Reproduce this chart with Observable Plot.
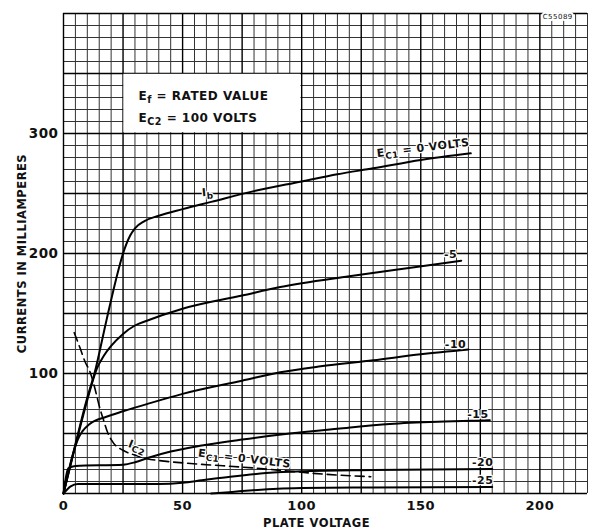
<!DOCTYPE html>
<html>
<head>
<meta charset="utf-8">
<script src="https://cdn.jsdelivr.net/npm/d3@7"></script>
<script src="https://cdn.jsdelivr.net/npm/@observablehq/plot@0.6"></script>
<style>
  html, body { margin: 0; padding: 0; background: #fff; }
  #chart svg { display: block; }
</style>
</head>
<body>
<div id="chart"></div>
<script>
// Plate current Ib (mA) vs plate voltage (V) for each grid-1 voltage
const ecc0  = [[0,0],[5,41],[10,80],[13,100],[18,144],[22,178],[25,200],[28,215],[30,221],[34,227],[40,231.5],[50,237],[62,243],[80,252],[100,260],[115,266],[130,271],[150,278],[171,283.5]];
const ecc5  = [[0,0],[5,40],[10,78],[12,92],[14,104],[17,115],[20,123],[25,133],[30,140],[35,144],[50,154],[75,165],[91,172],[120,181],[145,188],[167,194]];
const ecc10 = [[0,0],[4,33],[6,45],[8,52],[11,58],[18,64],[25,68.5],[35,74.5],[50,83],[75,94],[91,101],[108,106],[130,111],[150,116],[170,120]];
const ecc15 = [[0,0],[2,21],[5,23],[25,24],[30,26],[36,30],[45,35],[58,40],[75,45],[95,50],[115,54],[137,58],[160,60],[179,61]];
const ecc20 = [[0,0],[3,6],[6,8],[40,8],[50,9],[58,11],[70,14],[85,17],[100,18.5],[130,19.5],[180,20.5]];
const ecc25 = [[62,0],[68,0.8],[75,2],[90,4],[100,4.5],[130,5],[180,5.5]];
// Screen current Ic2 (mA) for Ec1 = 0 volts (dashed)
const ic2   = [[4.5,134],[7,121],[9,110],[11,102],[13,89],[15,73],[17,60],[18.5,51],[21,42],[25,36],[30,32],[35,29],[40,27.5],[50,25.5],[60,24],[75,22],[90,19.5],[110,16],[129,14]];

// Axis ticks
const xTicks = [0, 50, 100, 150, 200];
const yTicks = [100, 200, 300];
const xDomain = [0, 220];
const yDomain = [0, 400];

// Text (label strings: {...} marks a subscript)
const xTitle = "PLATE VOLTAGE";
const yTitle = "CURRENTS IN MILLIAMPERES";
const noteLines = ["E{f} = RATED VALUE", "E{C2} = 100 VOLTS"];
const curveLabels = [
  {text: "E{C1} = 0 VOLTS", v: 151, ma: 288},
  {text: "-5",   v: 162.5, ma: 199},
  {text: "-10",  v: 164.6, ma: 124},
  {text: "-15",  v: 174,   ma: 66},
  {text: "-20",  v: 176,   ma: 26},
  {text: "-25",  v: 176,   ma: 11},
  {text: "I{b}", v: 60.5,  ma: 251},
  {text: "I{C2}", v: 31,   ma: 39},
  {text: "E{C1} = 0 VOLTS", v: 76, ma: 29}
];
const stamp = "C55089";

const X = d => d[0], Y = d => d[1];
const font = "DejaVu Sans";

const minorX = d3.range(xDomain[0], xDomain[1] + 0.1, 5).filter(v => v % 25 !== 0);
const majorX = d3.range(xDomain[0], xDomain[1] + 0.1, 25);
const minorY = d3.range(yDomain[0], yDomain[1] + 0.1, 10).filter(v => v % 50 !== 0);
const majorY = d3.range(yDomain[0], yDomain[1] + 0.1, 50);

const lab = (i, opts) => Plot.text([curveLabels[i]], {x: "v", y: "ma", text: "text", fontSize: 11, fontWeight: "bold", fill: "#111", stroke: "white", strokeWidth: 2.5, ...opts});

const chart = Plot.plot({
  width: 593,
  height: 529,
  marginLeft: 63,
  marginRight: 6,
  marginTop: 13,
  marginBottom: 36,
  style: {fontFamily: font, background: "#fff", color: "#111"},
  x: {domain: xDomain},
  y: {domain: yDomain},
  marks: [
    Plot.ruleX(minorX, {stroke: "#333", strokeWidth: 1}),
    Plot.ruleY(minorY, {stroke: "#333", strokeWidth: 1}),
    Plot.ruleX(majorX, {stroke: "#000", strokeWidth: 1.4}),
    Plot.ruleY(majorY, {stroke: "#000", strokeWidth: 1.4}),
    Plot.ruleX([xDomain[1]], {stroke: "#333", strokeWidth: 1}),
    // white note box
    Plot.rect([{x1: 25, x2: 100, y1: 300, y2: 350}], {x1: "x1", x2: "x2", y1: "y1", y2: "y2", fill: "white", inset: 0.8}),
    Plot.text([noteLines[0]], {x: 31.5, y: 331, text: d => d, textAnchor: "start", fontSize: 12, fontWeight: "bold", fill: "#111"}),
    Plot.text([noteLines[1]], {x: 31.5, y: 313, text: d => d, textAnchor: "start", fontSize: 12, fontWeight: "bold", fill: "#111"}),
    Plot.text([stamp], {x: 207.5, y: 397, text: d => d, fontSize: 7, fill: "#111", stroke: "white", strokeWidth: 4}),
    // curves
    Plot.line(ecc0,  {x: X, y: Y, stroke: "#000", strokeWidth: 2, curve: "monotone-x"}),
    Plot.line(ecc5,  {x: X, y: Y, stroke: "#000", strokeWidth: 2, curve: "monotone-x"}),
    Plot.line(ecc10, {x: X, y: Y, stroke: "#000", strokeWidth: 2, curve: "monotone-x"}),
    Plot.line(ecc15, {x: X, y: Y, stroke: "#000", strokeWidth: 2, curve: "monotone-x"}),
    Plot.line(ecc20, {x: X, y: Y, stroke: "#000", strokeWidth: 2, curve: "monotone-x"}),
    Plot.line(ecc25, {x: X, y: Y, stroke: "#000", strokeWidth: 2, curve: "monotone-x"}),
    Plot.line(ic2,   {x: X, y: Y, stroke: "#000", strokeWidth: 1.6, strokeDasharray: "9,5", curve: "monotone-x"}),
    // curve labels
    lab(0, {rotate: -7}),
    lab(1, {}),
    lab(2, {}),
    lab(3, {}),
    lab(4, {}),
    lab(5, {}),
    lab(6, {rotate: -5}),
    lab(7, {rotate: 22}),
    lab(8, {rotate: 7}),
    // axes
    Plot.axisX({ticks: xTicks, tickSize: 0, tickPadding: 7, fontSize: 13, fontWeight: "bold", label: null}),
    Plot.axisY({ticks: yTicks, tickSize: 0, tickPadding: 5, fontSize: 13.5, fontWeight: "bold", label: null}),
    Plot.text([xTitle], {frameAnchor: "bottom", dy: 33, text: d => d, fontSize: 11.5, fontWeight: "bold", fill: "#111", dx: -9, textAnchor: "middle"}),
    Plot.text([yTitle], {frameAnchor: "left", dx: -41, rotate: -90, text: d => d, fontSize: 11.5, fontWeight: "bold", fill: "#111", textAnchor: "middle"})
  ]
});

// turn {...} into subscripts
d3.select(chart).selectAll("text").each(function () {
  const t = this.textContent;
  if (!t.includes("{")) return;
  const parts = t.split(/[{}]/);
  const sel = d3.select(this);
  sel.text(null);
  let shifted = false;
  parts.forEach((p, i) => {
    if (!p) return;
    const ts = sel.append("tspan").text(p);
    if (i % 2 === 1) {
      ts.attr("dy", 3).attr("font-size", "0.8em");
      shifted = true;
    } else if (shifted) {
      ts.attr("dy", -3);
      shifted = false;
    }
  });
});
d3.select(chart).selectAll("text").style("letter-spacing", "0.5px");

document.getElementById("chart").appendChild(chart);
</script>
</body>
</html>
